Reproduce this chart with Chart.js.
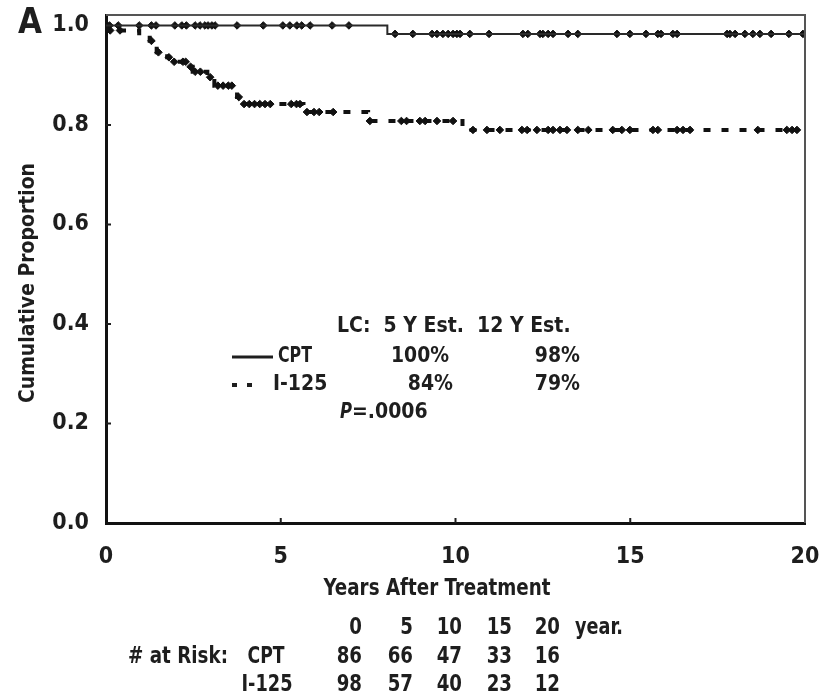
<!DOCTYPE html>
<html>
<head>
<meta charset="utf-8">
<script src="https://cdn.jsdelivr.net/npm/chart.js@4.4.1/dist/chart.umd.min.js"></script>
<style>
  html, body { margin: 0; padding: 0; background: #fff; }
  #wrap { width: 834px; height: 696px; position: relative; }
</style>
</head>
<body>
<div id="wrap"><canvas id="myChart" width="834" height="696"></canvas></div>
<script>
// Kaplan-Meier: local control, CPT vs I-125
const cptEventTimes = [0, 8.05, 20];
const cptEventSurv = [1.0, 0.983, 0.983];
const cptCensorTimes = [0.1, 0.35, 0.95, 1.3, 1.43, 1.97, 2.17, 2.3, 2.55, 2.69, 2.83, 2.92, 3.03, 3.12,
  3.75, 4.5, 5.06, 5.26, 5.46, 5.6, 5.84, 6.47, 6.95, 8.27, 8.78, 9.33, 9.47, 9.64, 9.79, 9.93, 10.04,
  10.13, 10.41, 10.96, 11.93, 12.07, 12.42, 12.5, 12.65, 12.79, 13.22, 13.5, 14.62, 14.99, 15.45, 15.79,
  15.88, 16.22, 16.34, 17.77, 17.85, 18.0, 18.28, 18.51, 18.71, 19.03, 19.54, 19.94];

const iEventTimes = [0, 0.03, 0.95, 1.25, 1.45, 1.75, 1.9, 2.35, 2.48, 2.9, 3.1, 3.75, 3.88, 5.65, 7.5, 10.2, 19.8];
const iEventSurv = [1.0, 0.99, 0.98, 0.969, 0.946, 0.936, 0.927, 0.917, 0.907, 0.896, 0.879, 0.856, 0.842, 0.826, 0.808, 0.79, 0.79];
const iCensorTimes = [0.12, 0.4, 1.3, 1.5, 1.8, 1.95, 2.2, 2.28, 2.42, 2.55, 2.7, 2.98, 3.2, 3.35, 3.5,
  3.6, 3.8, 3.95, 4.1, 4.25, 4.4, 4.55, 4.7, 5.3, 5.45, 5.55, 5.75, 5.95, 6.1, 6.5, 7.55, 8.45, 8.6,
  8.98, 9.13, 9.47, 9.93, 10.5, 10.9, 11.27, 11.9, 12.05, 12.33, 12.65, 12.79, 12.99, 13.19, 13.5, 13.8,
  14.5, 14.76, 14.99, 15.65, 15.79, 16.34, 16.51, 16.71, 18.65, 19.48, 19.63, 19.77];

const xTicks = [0, 5, 10, 15, 20];
const yTicks = [0, 0.2, 0.4, 0.6, 0.8, 1.0];

const riskYears = ['0', '5', '10', '15', '20'];
const riskCPT = [86, 66, 47, 33, 16];
const riskI125 = [98, 57, 40, 23, 12];

const FONT = "'Liberation Sans Narrow', 'DejaVu Sans Condensed', 'Liberation Sans', sans-serif";
const INK = '#1e1e1e';

function levelAt(times, surv, t) {
  let v = surv[0];
  for (let i = 0; i < times.length; i++) {
    if (times[i] <= t) v = surv[i];
  }
  return v;
}
function pts(xs, ys) { return xs.map((x, i) => ({ x: x, y: ys[i] })); }
function censorPts(ct, times, surv) { return ct.map(t => ({ x: t, y: levelAt(times, surv, t) })); }

// draw text squeezed horizontally (narrow journal font)
function squeeze(ctx, text, x, y, align, w) {
  const mw = ctx.measureText(text).width;
  const k = w ? Math.min(1, w / mw) : 0.88;
  const rw = mw * k;
  let left = x;
  if (align === 'center') left = x - rw / 2;
  if (align === 'right') left = x - rw;
  ctx.save();
  ctx.translate(left, y);
  ctx.scale(k, 1);
  ctx.textAlign = 'left';
  ctx.fillText(text, 0, 0);
  ctx.restore();
  return rw;
}

const extras = {
  id: 'extras',
  afterDraw(chart) {
    const ctx = chart.ctx;
    const a = chart.chartArea;
    const xs = chart.scales.x, ys = chart.scales.y;
    ctx.save();
    // top and right frame
    ctx.strokeStyle = '#555';
    ctx.lineWidth = 2;
    ctx.beginPath();
    ctx.moveTo(a.left, a.top); ctx.lineTo(a.right, a.top); ctx.lineTo(a.right, a.bottom);
    ctx.stroke();
    // inward tick marks
    ctx.strokeStyle = INK;
    ctx.lineWidth = 2;
    ctx.beginPath();
    xTicks.slice(1, -1).forEach(v => {
      const px = xs.getPixelForValue(v);
      ctx.moveTo(px, a.bottom); ctx.lineTo(px, a.bottom - 5);
    });
    yTicks.slice(1, -1).forEach(v => {
      const py = ys.getPixelForValue(v);
      ctx.moveTo(a.left, py); ctx.lineTo(a.left + 5, py);
    });
    ctx.stroke();

    ctx.fillStyle = INK;
    ctx.textBaseline = 'middle';
    // panel letter
    ctx.font = 'bold 36px ' + FONT;
    squeeze(ctx, 'A', 30, 24, 'center', 24);

    // y title
    ctx.save();
    ctx.translate(28, 283);
    ctx.rotate(-Math.PI / 2);
    ctx.font = 'bold 22px ' + FONT;
    squeeze(ctx, 'Cumulative Proportion', 0, 0, 'center', 240);
    ctx.restore();

    // x title
    ctx.font = 'bold 23px ' + FONT;
    squeeze(ctx, 'Years After Treatment', 437, 589, 'center', 227);

    // in-plot legend
    ctx.font = 'bold 21px ' + FONT;
    squeeze(ctx, 'LC:  5 Y Est.  12 Y Est.', 337, 327, 'left', 241);
    squeeze(ctx, 'CPT', 278, 357, 'left', 34);
    squeeze(ctx, 'I-125', 273, 385, 'left', 60);
    squeeze(ctx, '100%', 449, 357, 'right', 58);
    squeeze(ctx, '98%', 580, 357, 'right', 48);
    squeeze(ctx, '84%', 453, 385, 'right', 48);
    squeeze(ctx, '79%', 580, 385, 'right', 48);
    ctx.font = 'italic bold 21px ' + FONT;
    const pw = squeeze(ctx, 'P', 340, 413, 'left', 12);
    ctx.font = 'bold 21px ' + FONT;
    squeeze(ctx, '=.0006', 340 + pw, 413, 'left', 89 - pw);

    ctx.strokeStyle = INK;
    ctx.lineWidth = 3;
    ctx.beginPath(); ctx.moveTo(232, 357); ctx.lineTo(273, 357); ctx.stroke();
    ctx.lineWidth = 4;
    ctx.setLineDash([5, 10]);
    ctx.beginPath(); ctx.moveTo(232, 385); ctx.lineTo(256, 385); ctx.stroke();
    ctx.setLineDash([]);

    // numbers at risk table
    const cols = [362, 413, 462, 512, 560];
    ctx.font = 'bold 23px ' + FONT;
    cols.forEach((cx, i) => {
      squeeze(ctx, riskYears[i], cx, 628, 'right');
      squeeze(ctx, String(riskCPT[i]), cx, 657, 'right');
      squeeze(ctx, String(riskI125[i]), cx, 685, 'right');
    });
    squeeze(ctx, 'year.', 575, 628, 'left', 48);
    squeeze(ctx, '# at Risk:', 128, 657, 'left', 100);
    squeeze(ctx, 'CPT', 266, 657, 'center', 37);
    squeeze(ctx, 'I-125', 267, 685, 'center', 51);
    ctx.restore();
  }
};

const ctx = document.getElementById('myChart');

new Chart(ctx, {
  type: 'line',
  data: {
    datasets: [
      {
        label: 'CPT',
        data: pts(cptEventTimes, cptEventSurv),
        stepped: true,
        borderColor: '#2a2a2a',
        borderWidth: 2,
        pointRadius: 0
      },
      {
        label: 'I-125',
        data: pts(iEventTimes, iEventSurv),
        stepped: true,
        borderColor: '#111',
        borderWidth: 4,
        borderDash: [7, 11],
        pointRadius: 0
      },
      {
        label: 'CPT censored',
        data: censorPts(cptCensorTimes, cptEventTimes, cptEventSurv),
        showLine: false,
        pointStyle: 'rectRot',
        pointRadius: 3.8,
        backgroundColor: '#111',
        borderColor: '#111',
        borderWidth: 1
      },
      {
        label: 'I-125 censored',
        data: censorPts(iCensorTimes, iEventTimes, iEventSurv),
        showLine: false,
        pointStyle: 'rectRot',
        pointRadius: 3.8,
        backgroundColor: '#111',
        borderColor: '#111',
        borderWidth: 1
      }
    ]
  },
  options: {
    responsive: false,
    animation: false,
    layout: { padding: { left: 0, top: 15, right: 29, bottom: 133 } },
    plugins: { legend: { display: false }, tooltip: { enabled: false } },
    scales: {
      x: {
        type: 'linear',
        min: 0,
        max: 20,
        afterFit(scale) { scale.height = 40; scale.paddingRight = 0; scale.paddingLeft = 0; },
        afterBuildTicks(scale) { scale.ticks = xTicks.map(v => ({ value: v })); },
        grid: { display: false },
        border: { display: true, width: 3, color: '#111' },
        ticks: { font: { family: FONT, size: 23, weight: 'bold' }, color: INK, padding: 12, maxRotation: 0 }
      },
      y: {
        min: 0,
        max: 1.021,
        afterFit(scale) { scale.width = 106; scale.paddingTop = 0; scale.paddingBottom = 0; },
        afterBuildTicks(scale) { scale.ticks = yTicks.map(v => ({ value: v })); },
        grid: { display: false },
        border: { display: true, width: 3, color: '#111' },
        ticks: {
          font: { family: FONT, size: 23, weight: 'bold' },
          color: INK,
          padding: 9,
          callback: v => v.toFixed(1)
        }
      }
    }
  },
  plugins: [extras]
});
</script>
</body>
</html>
